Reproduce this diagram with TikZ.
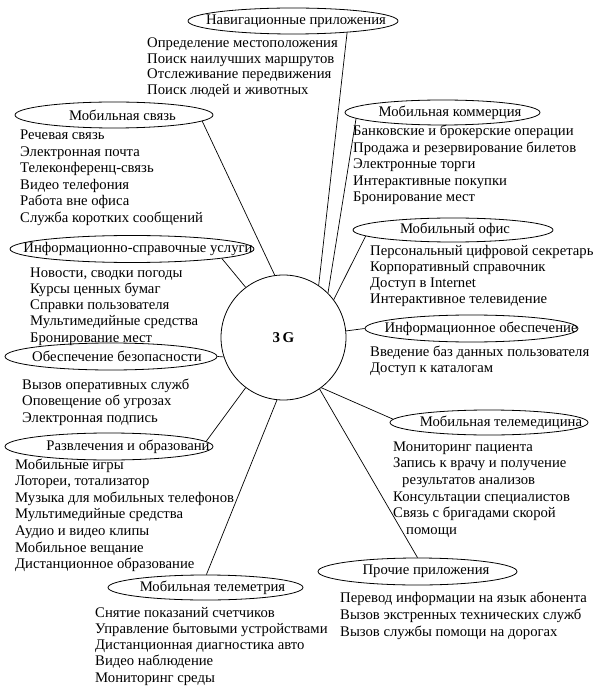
\documentclass[tikz,border=0pt]{standalone}
\usepackage{fontspec}
\setmainfont{Liberation Serif}
\usetikzlibrary{shapes.geometric}
\newcommand\et[2]{\makebox[0pt]{\hspace*{#1pt}#2}}
\newcommand\itemblock[5]{\foreach \txt [count=\ii] in {#5} {\node[itm] (#1\ii) at (#2,{#3+(\ii-1)*#4}) {\txt};}}
\begin{document}
\begin{tikzpicture}[x=1pt,y=-1pt,
  itm/.style={anchor=base west, inner sep=0pt, font=\fontsize{14.7}{16}\selectfont},
  ell/.style={draw, ellipse, inner sep=0pt, line width=0.8pt, font=\fontsize{14.7}{16}\selectfont},
  conn/.style={line width=0.7pt}]
\fill[white] (0,0) rectangle (598,692);
\useasboundingbox (0,0) rectangle (598,692);

% centre
\node[draw, circle, line width=0.8pt, minimum size=125pt, inner sep=0pt,
      font=\fontsize{15}{16}\selectfont\bfseries] (c) at (283.5,337.5) {3\,G};

% ellipses
\node[ell, minimum width=210pt, minimum height=26pt] (nav) at (293,21) {\et{6}{Навигационные приложения}};
\node[ell, minimum width=198pt, minimum height=26pt] (mob) at (114,115) {\et{17}{Мобильная связь}};
\node[ell, minimum width=195pt, minimum height=25pt] (com) at (442.5,112.5) {\et{15}{Мобильная коммерция}};
\node[ell, minimum width=200pt, minimum height=24pt] (off) at (453,230) {\et{4}{Мобильный офис}};
\node[ell, minimum width=244pt, minimum height=27pt] (inf) at (132,249) {\et{12}{Информационно-справочные услуги}};
\node[ell, minimum width=212pt, minimum height=27pt] (sec) at (111,356.5) {\et{12}{Обеспечение безопасности}};
\node[ell, minimum width=208pt, minimum height=27pt] (ent) at (109,446.5) {\et{38}{Развлечения и образовани}};
\node[ell, minimum width=213pt, minimum height=27pt] (ipr) at (471.5,328.5) {\et{19}{Информационное обеспечение}};
\node[ell, minimum width=198pt, minimum height=25pt] (med) at (489,422.5) {\et{24}{Мобильная телемедицина}};
\node[ell, minimum width=195pt, minimum height=25pt] (tel) at (205.5,587.5) {\et{14}{Мобильная телеметрия}};
\node[ell, minimum width=199pt, minimum height=27pt] (oth) at (417.5,571.5) {\et{17}{Прочие приложения}};

% item lists
\itemblock{navi}{147}{47.3}{15.8}{Определение местоположения,Поиск наилучших маршрутов,Отслеживание передвижения,Поиск людей и животных}
\itemblock{mobi}{20}{140}{16.5}{Речевая связь,Электронная почта,Телеконференц-связь,Видео телефония,Работа вне офиса,Служба коротких сообщений}
\itemblock{comi}{353}{135.7}{16.5}{Банковские и брокерские операции,Продажа и резервирование билетов,Электронные торги,Интерактивные покупки,Бронирование мест}
\itemblock{offi}{370}{255}{16.2}{Персональный цифровой секретарь,Корпоративный справочник,Доступ в Internet,Интерактивное телевидение}
\itemblock{ipri}{370}{356}{16}{Введение баз данных пользователя,Доступ к каталогам}
\itemblock{infi}{30}{277}{16.3}{{Новости, сводки погоды},Курсы ценных бумаг,Справки пользователя,Мультимедийные средства,Бронирование мест}
\itemblock{seci}{22}{389}{16.5}{Вызов оперативных служб,Оповещение об угрозах,Электронная подпись}
\itemblock{enti}{15}{469}{16.6}{Мобильные игры,{Лотореи, тотализатор},Музыка для мобильных телефонов,Мультимедийные средства,Аудио и видео клипы,Мобильное вещание,Дистанционное образование}
\itemblock{teli}{95}{617}{16.3}{Снятие показаний счетчиков,Управление бытовыми устройствами,Дистанционная диагностика авто,Видео наблюдение,Мониторинг среды}
\node[itm] (medi1) at (393,451) {Мониторинг пациента};
\node[itm] (medi2) at (393,467) {Запись к врачу и получение};
\node[itm] (medi3) at (402,484) {результатов анализов};
\node[itm] (medi4) at (393,501) {Консультации специалистов};
\node[itm] (medi5) at (393,517) {Связь с бригадами скорой};
\node[itm] (medi6) at (406,534) {помощи};
\itemblock{othi}{340}{602}{17}{Перевод информации на язык абонента,Вызов экстренных технических служб,Вызов службы помощи на дорогах}

% connectors
\draw[conn] (nav.-12.4) -- (c.56.7);
\draw[conn] (com.-176) -- (c.45.6);
\draw[conn] (off.-176) -- (c.37);
\draw[conn] (ipr.180) -- (c.6.8);
\draw[conn] (med.178) -- (c.-53);
\draw[conn] (oth.north) -- (c.-55);
\draw[conn] (tel.86) -- (c.-96);
\draw[conn] (ent.3) -- (c.-127);
\draw[conn] (sec.east) -- (c.-162);
\draw[conn] (inf.-6.6) -- (c.127);
\draw[conn] (mob.-4.7) -- (c.98);
\end{tikzpicture}
\end{document}
